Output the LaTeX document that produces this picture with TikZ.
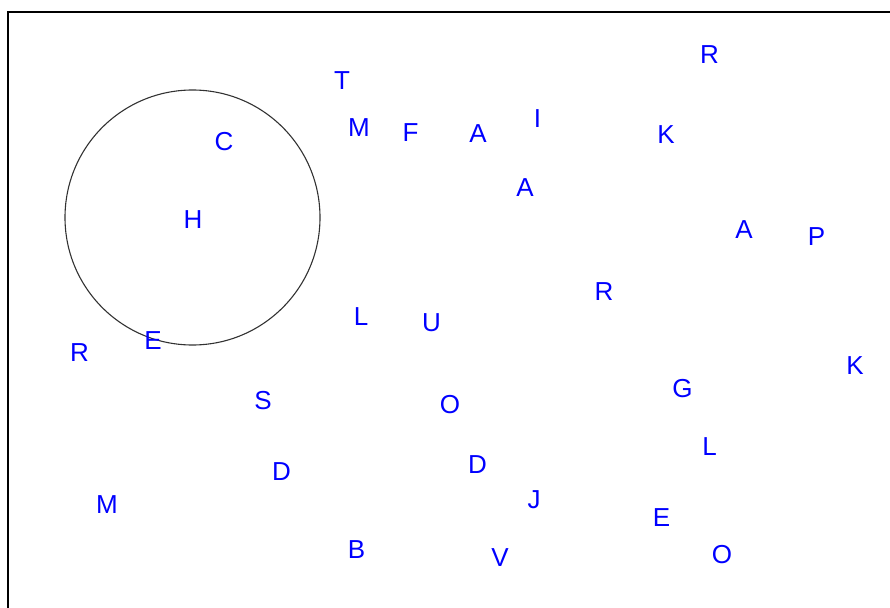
\documentclass[tikz,border=0pt]{standalone}
\usepackage{fontspec}
\setmainfont{Liberation Sans}
\definecolor{letterblue}{RGB}{0,0,255}
\definecolor{ringgray}{RGB}{50,50,50}
\begin{document}
\begin{tikzpicture}[x=1pt,y=-1pt,
  letter/.style={text=letterblue,inner sep=0pt,font=\fontsize{26}{28}\selectfont},
  ring/.style={circle,draw=ringgray,line width=1.1pt,inner sep=0pt,minimum size=255pt},
  frame/.style={draw=black,line width=1.8pt}]
\useasboundingbox (0,0) rectangle (890,607);
\coordinate (fbl) at (8,620);
\coordinate (ftr) at (900,12);
\draw[frame] (fbl) |- (ftr);
\node[ring] (circ) at (192.5,217.5) {};
\node[letter] (t1) at (342,80.5) {T};
\node[letter] (m1) at (359,128) {M};
\node[letter] (f1) at (410.5,133) {F};
\node[letter] (a1) at (478,134) {A};
\node[letter] (i1) at (537.5,118.5) {I};
\node[letter] (a2) at (525,188) {A};
\node[letter] (r1) at (709.5,54.5) {R};
\node[letter] (k1) at (666,135) {K};
\node[letter] (a3) at (744,230) {A};
\node[letter] (p1) at (816.5,237) {P};
\node[letter] (r2) at (604,292) {R};
\node[letter] (c1) at (224,141.5) {C};
\node[letter] (h1) at (193,219.5) {H};
\node[letter] (r3) at (79.5,353) {R};
\node[letter] (e1) at (153,341) {E};
\node[letter] (l1) at (361,316.5) {L};
\node[letter] (u1) at (431.5,323) {U};
\node[letter] (s1) at (263,401) {S};
\node[letter] (o1) at (450,405) {O};
\node[letter] (k2) at (855,366) {K};
\node[letter] (g1) at (682.5,389) {G};
\node[letter] (l2) at (709.5,446.5) {L};
\node[letter] (e2) at (661.5,518) {E};
\node[letter] (o2) at (722,554.5) {O};
\node[letter] (m2) at (107,505) {M};
\node[letter] (d1) at (281.5,471.5) {D};
\node[letter] (d2) at (477.5,465) {D};
\node[letter] (j1) at (534,500) {J};
\node[letter] (b1) at (356.5,550) {B};
\node[letter] (v1) at (500,558) {V};
\end{tikzpicture}
\end{document}
